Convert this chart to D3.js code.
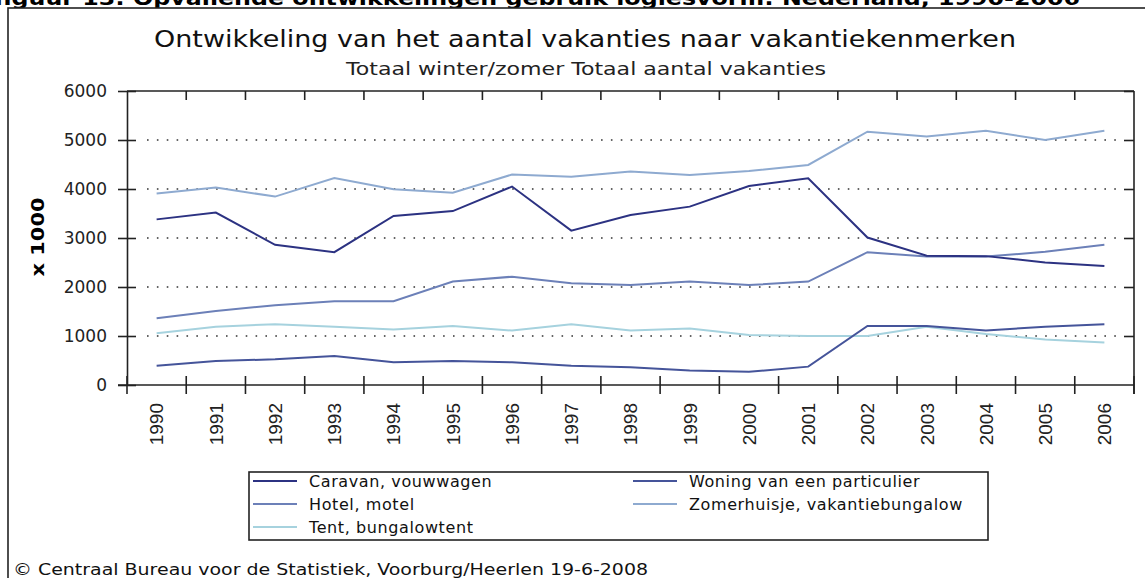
<!DOCTYPE html>
<html>
<head>
<meta charset="utf-8">
<title>Ontwikkeling vakanties</title>
<script src="https://d3js.org/d3.v7.min.js"></script>
<style>
  body { margin: 0; background: #fff; }
  svg { display: block; font-family: "DejaVu Sans", Verdana, sans-serif; }
  .grid line { stroke: #333; stroke-width: 1.6; stroke-dasharray: 1.6 8.27; }
  .axis path, .axis line { stroke: #222; stroke-width: 1.6; }
</style>
</head>
<body>
<svg width="1145" height="578"></svg>
<script>
const years = ['1990','1991','1992','1993','1994','1995','1996','1997','1998','1999','2000','2001','2002','2003','2004','2005','2006'];
const caravan   = [3380,3520,2860,2710,3450,3550,4050,3150,3470,3640,4060,4220,3010,2640,2630,2500,2430];
const woning    = [395,490,525,590,465,490,465,395,360,295,270,375,1205,1205,1110,1190,1240];
const hotel     = [1360,1510,1630,1710,1710,2110,2210,2075,2040,2110,2040,2110,2710,2620,2620,2720,2860];
const zomerhuis = [3910,4030,3845,4225,3995,3925,4295,4250,4355,4285,4365,4490,5170,5070,5190,5000,5190];
const tent      = [1055,1190,1240,1190,1135,1205,1110,1240,1110,1155,1020,1000,1000,1190,1040,930,865];
const yTicks = [0,1000,2000,3000,4000,5000,6000];

const series = [
  { name: 'Caravan, vouwwagen', values: caravan, color: '#2c3282' },
  { name: 'Woning van een particulier', values: woning, color: '#45549a' },
  { name: 'Hotel, motel', values: hotel, color: '#6c80b8' },
  { name: 'Zomerhuisje, vakantiebungalow', values: zomerhuis, color: '#8eaad0' },
  { name: 'Tent, bungalowtent', values: tent, color: '#a6d2de' }
];

const svg = d3.select('svg');
const pLeft = 127, pRight = 1134, pTop = 91, pBottom = 385;

// kop boven de figuur (afgesneden)
svg.append('text')
  .attr('x', -6).attr('y', 5)
  .attr('font-weight', 'bold').attr('font-size', 19)
  .attr('textLength', 1086).attr('lengthAdjust', 'spacingAndGlyphs')
  .text('figuur 13: Opvallende ontwikkelingen gebruik logiesvorm: Nederland, 1990-2006');

// kader
svg.append('rect')
  .attr('x', 8).attr('y', 8).attr('width', 1160).attr('height', 600)
  .attr('fill', '#fff').attr('stroke', '#222').attr('stroke-width', 1.6);

svg.append('text')
  .attr('x', 585).attr('y', 47).attr('text-anchor', 'middle')
  .attr('font-size', 23).attr('fill', '#111')
  .attr('textLength', 862).attr('lengthAdjust', 'spacingAndGlyphs')
  .text('Ontwikkeling van het aantal vakanties naar vakantiekenmerken');

svg.append('text')
  .attr('x', 586).attr('y', 75).attr('text-anchor', 'middle')
  .attr('font-size', 18).attr('fill', '#222')
  .attr('textLength', 480).attr('lengthAdjust', 'spacingAndGlyphs')
  .text('Totaal winter/zomer Totaal aantal vakanties');

const x = d3.scaleBand().domain(years).range([pLeft, pRight]).padding(0);
const y = d3.scaleLinear().domain([0, 6000]).range([pBottom, pTop]);

// gridlijnen
svg.append('g').attr('class', 'grid')
  .selectAll('line')
  .data(yTicks.slice(1, -1))
  .enter().append('line')
  .attr('x1', pLeft + 20).attr('x2', pRight - 12)
  .attr('y1', d => y(d)).attr('y2', d => y(d));

// linker as
const yAxis = svg.append('g').attr('class', 'axis')
  .attr('transform', `translate(${pLeft},0)`)
  .call(d3.axisLeft(y).tickValues(yTicks).tickSize(9).tickSizeOuter(0).tickFormat(d3.format('d')));
yAxis.selectAll('line').attr('x1', 9);
yAxis.selectAll('text').attr('x', -20).attr('font-size', 17)
  .attr('font-family', '"DejaVu Sans", Verdana, sans-serif').attr('fill', '#222');

// rechter as
const yAxisR = svg.append('g').attr('class', 'axis')
  .attr('transform', `translate(${pRight},0)`)
  .call(d3.axisLeft(y).tickValues(yTicks.slice(1)).tickSize(10).tickSizeOuter(0).tickFormat(''));
yAxisR.select('.domain').attr('d', `M0,${pTop}V${pBottom + 9}`);
yAxisR.selectAll('line').attr('x2', -10);

// onderste en bovenste as
const bandTicks = years.map(d => x(d)).concat([pRight]);
const xAxis = svg.append('g').attr('class', 'axis');
xAxis.append('line')
  .attr('x1', pLeft - 9).attr('x2', pRight).attr('y1', pBottom).attr('y2', pBottom);
xAxis.selectAll('.tb').data(bandTicks).enter().append('line')
  .attr('x1', d => d).attr('x2', d => d)
  .attr('y1', pBottom - 9).attr('y2', pBottom + 9);
xAxis.append('line')
  .attr('x1', pLeft).attr('x2', pRight).attr('y1', pTop).attr('y2', pTop);
xAxis.selectAll('.tt').data(bandTicks.slice(1, -1)).enter().append('line')
  .attr('x1', d => d).attr('x2', d => d)
  .attr('y1', pTop).attr('y2', pTop + 9);

// jaarlabels
svg.append('g').selectAll('text')
  .data(years).enter().append('text')
  .attr('transform', d => `translate(${x(d) + x.bandwidth() / 2},403) rotate(-90)`)
  .attr('text-anchor', 'end').attr('dy', '0.36em')
  .attr('font-family', '"Liberation Sans", Arial, sans-serif')
  .attr('font-size', 19).attr('fill', '#222')
  .text(d => d);

svg.append('text')
  .attr('transform', `translate(38,${(pTop + pBottom) / 2 - 1}) rotate(-90)`)
  .attr('text-anchor', 'middle').attr('dy', '0.36em')
  .attr('font-weight', 'bold').attr('font-size', 18)
  .attr('textLength', 79).attr('lengthAdjust', 'spacingAndGlyphs')
  .text('x 1000');

// lijnen
const line = d3.line()
  .x((d, i) => x(years[i]) + x.bandwidth() / 2)
  .y(d => y(d));

svg.append('g').selectAll('path')
  .data(series.slice().reverse()).enter().append('path')
  .attr('fill', 'none')
  .attr('stroke', d => d.color)
  .attr('stroke-width', 2)
  .attr('d', d => line(d.values));

// legenda
svg.append('rect')
  .attr('x', 249).attr('y', 472).attr('width', 739).attr('height', 68)
  .attr('fill', 'none').attr('stroke', '#222').attr('stroke-width', 1.6);

const legendPos = [
  [253, 481], [633, 481],
  [253, 504], [633, 504],
  [253, 527]
];
const order = [0, 1, 2, 3, 4];
const leg = svg.append('g').selectAll('g')
  .data(order).enter().append('g')
  .attr('transform', i => `translate(${legendPos[i][0]},${legendPos[i][1]})`);
leg.append('line')
  .attr('x1', 0).attr('x2', 44).attr('y1', 0).attr('y2', 0)
  .attr('stroke', i => series[i].color).attr('stroke-width', 2);
leg.append('text')
  .attr('x', 56).attr('y', 5.5)
  .attr('font-size', 16).attr('fill', '#111').attr('letter-spacing', 0.6)
  .text(i => series[i].name);

svg.append('text')
  .attr('x', 13).attr('y', 575)
  .attr('font-size', 16).attr('fill', '#111')
  .attr('textLength', 635).attr('lengthAdjust', 'spacingAndGlyphs')
  .text('© Centraal Bureau voor de Statistiek, Voorburg/Heerlen 19-6-2008');
</script>
</body>
</html>
